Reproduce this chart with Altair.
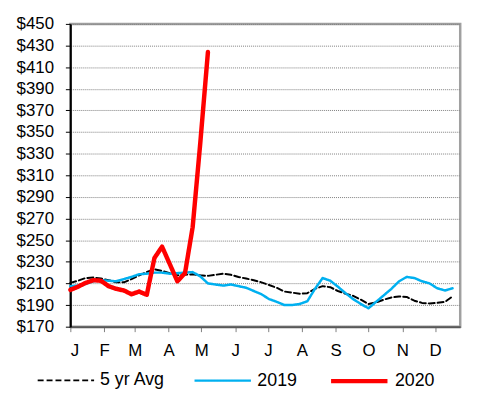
import altair as alt
import pandas as pd

# weekly data (week index 0..50)
avg5 = [210.5, 212.5, 215, 215.5, 214.5, 213, 211, 211, 214, 217.5,
        220.5, 223, 221.5, 219.5, 217.5, 218, 218.5, 217.5, 217, 218,
        219, 218, 216, 214.5, 213, 211, 208.5, 206, 202.5, 201.5,
        200.5, 201, 205, 207.5, 206.5, 203, 200.5, 198.5, 195, 191,
        192.5, 195, 197, 198, 197.5, 194, 192, 191.5, 192, 193, 198]
y2019 = [207.5, 208, 209.5, 212, 213, 212.5, 212, 214, 216, 218.5,
         219, 220, 220, 219, 219.5, 220, 220.5, 216.5, 210, 209,
         208, 209, 207.5, 206, 203, 200, 195.5, 193, 190, 190,
         191, 193.5, 205, 215, 212.5, 207, 201, 195.5, 191, 187,
         193, 199, 205, 212, 216, 215, 212, 210, 205.5, 203.5, 205.5]
y2020 = [204, 207, 210.5, 213, 212.5, 207.5, 205, 203.5, 200, 202.5,
         199.5, 233.5, 244, 228, 212, 219.5, 262, 340, 424]

series_names = ["5 yr Avg", "2019", "2020"]
series_colors = ["#000000", "#00B0F0", "#FF0000"]
series_widths = [2, 2.5, 4.5]
month_labels = ["J", "F", "M", "A", "M", "J", "J", "A", "S", "O", "N", "D"]
month_pos = [0, 4.43, 8.43, 12.86, 17.14, 21.57, 25.86, 30.29, 34.71, 39, 43.43, 47.71]
y_ticks = list(range(170, 451, 20))

rows = []
for name, vals in zip(series_names, [avg5, y2019, y2020]):
    for i, v in enumerate(vals):
        rows.append({"week": i, "price": v, "series": name})
df = pd.DataFrame(rows)

label_expr = "[" + ",".join("'%s'" % m for m in month_labels) + "][indexof([" + \
    ",".join("%g" % p for p in month_pos) + "], datum.value)]"

x_enc = alt.X("week:Q",
              scale=alt.Scale(domain=[0, 51], nice=False, zero=False),
              axis=alt.Axis(values=month_pos, labelExpr=label_expr, title=None,
                            grid=False, domainColor="#595959", domainWidth=2,
                            tickColor="#808080", tickSize=5, tickWidth=1,
                            labelPadding=11, labelFontSize=17, labelFont="Liberation Sans",
                            labelColor="#000000"))
y_enc = alt.Y("price:Q",
              scale=alt.Scale(domain=[170, 450], nice=False, zero=False),
              axis=alt.Axis(values=y_ticks, labelExpr="'$' + datum.value", title=None,
                            grid=True, gridColor="#808080", gridDash=[1, 1], gridWidth=1,
                            domainColor="#000000", domainWidth=2,
                            tickColor="#000000", tickSize=5, tickWidth=1,
                            labelPadding=12, labelFontSize=17, labelFont="Liberation Sans",
                            labelColor="#000000"))

color_enc = alt.Color("series:N",
                      scale=alt.Scale(domain=series_names, range=series_colors),
                      legend=alt.Legend(title=None, orient="none", direction="horizontal",
                                        legendX=-34, legendY=330,
                                        symbolType="stroke", symbolSize=3249,
                                        labelFontSize=18, labelFont="Liberation Sans",
                                        labelColor="#000000", labelOffset=5,
                                        columnPadding=24))
dash_enc = alt.StrokeDash("series:N",
                          scale=alt.Scale(domain=series_names, range=[[6, 3], [1, 0], [1, 0]]))
width_enc = alt.StrokeWidth("series:O",
                            scale=alt.Scale(type="ordinal", domain=series_names, range=series_widths))

layers = []
for name in series_names:
    layers.append(
        alt.Chart(df).transform_filter(alt.datum.series == name)
        .mark_line(strokeCap="round", strokeJoin="round")
        .encode(x=x_enc, y=y_enc, color=color_enc, strokeDash=dash_enc, strokeWidth=width_enc)
    )

chart = alt.layer(*layers).properties(
    width=394, height=306,
    autosize=alt.AutoSizeParams(type="none"),
    padding={"left": 63, "top": 14, "right": 20, "bottom": 70},
    background="white",
).configure_view(stroke="#A0A0A0", strokeWidth=2.5)

chart.save("out.html", embed_options={"renderer": "svg", "actions": False})
